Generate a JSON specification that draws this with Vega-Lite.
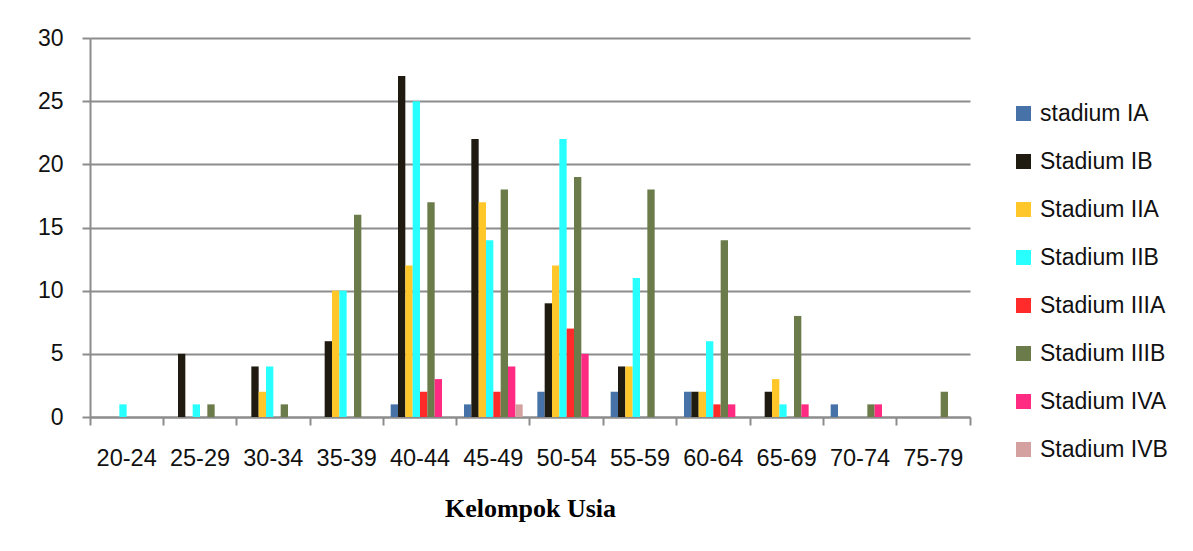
{
  "$schema": "https://vega.github.io/schema/vega-lite/v6.json",
  "width": 880,
  "height": 379,
  "autosize": {"type": "none"},
  "padding": {"left": 90, "top": 38, "right": 223, "bottom": 134},
  "background": "white",
  "config": {
    "view": {"stroke": null},
    "font": "Liberation Sans"
  },
  "data": {
    "values": [
      {"usia": "20-24", "stadium": "Stadium IIB", "n": 1},
      {"usia": "25-29", "stadium": "Stadium IB", "n": 5},
      {"usia": "25-29", "stadium": "Stadium IIB", "n": 1},
      {"usia": "25-29", "stadium": "Stadium IIIB", "n": 1},
      {"usia": "30-34", "stadium": "Stadium IB", "n": 4},
      {"usia": "30-34", "stadium": "Stadium IIA", "n": 2},
      {"usia": "30-34", "stadium": "Stadium IIB", "n": 4},
      {"usia": "30-34", "stadium": "Stadium IIIB", "n": 1},
      {"usia": "35-39", "stadium": "Stadium IB", "n": 6},
      {"usia": "35-39", "stadium": "Stadium IIA", "n": 10},
      {"usia": "35-39", "stadium": "Stadium IIB", "n": 10},
      {"usia": "35-39", "stadium": "Stadium IIIB", "n": 16},
      {"usia": "40-44", "stadium": "stadium IA", "n": 1},
      {"usia": "40-44", "stadium": "Stadium IB", "n": 27},
      {"usia": "40-44", "stadium": "Stadium IIA", "n": 12},
      {"usia": "40-44", "stadium": "Stadium IIB", "n": 25},
      {"usia": "40-44", "stadium": "Stadium IIIA", "n": 2},
      {"usia": "40-44", "stadium": "Stadium IIIB", "n": 17},
      {"usia": "40-44", "stadium": "Stadium IVA", "n": 3},
      {"usia": "45-49", "stadium": "stadium IA", "n": 1},
      {"usia": "45-49", "stadium": "Stadium IB", "n": 22},
      {"usia": "45-49", "stadium": "Stadium IIA", "n": 17},
      {"usia": "45-49", "stadium": "Stadium IIB", "n": 14},
      {"usia": "45-49", "stadium": "Stadium IIIA", "n": 2},
      {"usia": "45-49", "stadium": "Stadium IIIB", "n": 18},
      {"usia": "45-49", "stadium": "Stadium IVA", "n": 4},
      {"usia": "45-49", "stadium": "Stadium IVB", "n": 1},
      {"usia": "50-54", "stadium": "stadium IA", "n": 2},
      {"usia": "50-54", "stadium": "Stadium IB", "n": 9},
      {"usia": "50-54", "stadium": "Stadium IIA", "n": 12},
      {"usia": "50-54", "stadium": "Stadium IIB", "n": 22},
      {"usia": "50-54", "stadium": "Stadium IIIA", "n": 7},
      {"usia": "50-54", "stadium": "Stadium IIIB", "n": 19},
      {"usia": "50-54", "stadium": "Stadium IVA", "n": 5},
      {"usia": "55-59", "stadium": "stadium IA", "n": 2},
      {"usia": "55-59", "stadium": "Stadium IB", "n": 4},
      {"usia": "55-59", "stadium": "Stadium IIA", "n": 4},
      {"usia": "55-59", "stadium": "Stadium IIB", "n": 11},
      {"usia": "55-59", "stadium": "Stadium IIIB", "n": 18},
      {"usia": "60-64", "stadium": "stadium IA", "n": 2},
      {"usia": "60-64", "stadium": "Stadium IB", "n": 2},
      {"usia": "60-64", "stadium": "Stadium IIA", "n": 2},
      {"usia": "60-64", "stadium": "Stadium IIB", "n": 6},
      {"usia": "60-64", "stadium": "Stadium IIIA", "n": 1},
      {"usia": "60-64", "stadium": "Stadium IIIB", "n": 14},
      {"usia": "60-64", "stadium": "Stadium IVA", "n": 1},
      {"usia": "65-69", "stadium": "Stadium IB", "n": 2},
      {"usia": "65-69", "stadium": "Stadium IIA", "n": 3},
      {"usia": "65-69", "stadium": "Stadium IIB", "n": 1},
      {"usia": "65-69", "stadium": "Stadium IIIB", "n": 8},
      {"usia": "65-69", "stadium": "Stadium IVA", "n": 1},
      {"usia": "70-74", "stadium": "stadium IA", "n": 1},
      {"usia": "70-74", "stadium": "Stadium IIIB", "n": 1},
      {"usia": "70-74", "stadium": "Stadium IVA", "n": 1},
      {"usia": "75-79", "stadium": "Stadium IIIB", "n": 2}
    ]
  },
  "mark": {"type": "bar"},
  "encoding": {
    "x": {
      "field": "usia",
      "type": "nominal",
      "sort": ["20-24","25-29","30-34","35-39","40-44","45-49","50-54","55-59","60-64","65-69","70-74","75-79"],
      "scale": {"domain": ["20-24","25-29","30-34","35-39","40-44","45-49","50-54","55-59","60-64","65-69","70-74","75-79"], "paddingInner": 0, "paddingOuter": 0},
      "axis": {
        "title": "Kelompok Usia",
        "titleFont": "Liberation Serif",
        "titleFontSize": 26,
        "titleFontWeight": "bold",
        "titleColor": "#000000",
        "titlePadding": 26,
        "labelAngle": 0,
        "labelFontSize": 23.5,
        "labelColor": "#111111",
        "labelPadding": 21,
        "labelOffset": 0,
        "bandPosition": 1,
        "tickExtra": true,
        "tickSize": 8,
        "tickColor": "#8c8c8c",
        "tickWidth": 2,
        "domainColor": "#8c8c8c",
        "domainWidth": 2,
        "grid": false
      }
    },
    "xOffset": {
      "field": "stadium",
      "type": "nominal",
      "scale": {"domain": ["stadium IA","Stadium IB","Stadium IIA","Stadium IIB","Stadium IIIA","Stadium IIIB","Stadium IVA","Stadium IVB"], "paddingInner": 0, "paddingOuter": 1}
    },
    "y": {
      "field": "n",
      "type": "quantitative",
      "scale": {"domain": [0, 30], "nice": false},
      "axis": {
        "title": null,
        "values": [0,5,10,15,20,25,30],
        "labelFontSize": 23,
        "labelColor": "#111111",
        "labelPadding": 19,
        "tickSize": 8,
        "tickColor": "#8c8c8c",
        "tickWidth": 2,
        "domainColor": "#8c8c8c",
        "domainWidth": 2,
        "gridColor": "#8c8c8c",
        "gridWidth": 2
      }
    },
    "color": {
      "field": "stadium",
      "type": "nominal",
      "scale": {
        "domain": ["stadium IA","Stadium IB","Stadium IIA","Stadium IIB","Stadium IIIA","Stadium IIIB","Stadium IVA","Stadium IVB"],
        "range": ["#4672A8","#1F1B10","#FFC72A","#28FFFF","#FF2A2A","#6B7B4A","#FF2A82","#D5A0A0"]
      },
      "legend": {
        "title": null,
        "orient": "none",
        "legendX": 922,
        "legendY": 64,
        "symbolType": "square",
        "symbolSize": 225,
        "symbolStrokeWidth": 0,
        "labelFontSize": 23,
        "labelColor": "#111111",
        "labelOffset": 5,
        "rowPadding": 24
      }
    }
  }
}
